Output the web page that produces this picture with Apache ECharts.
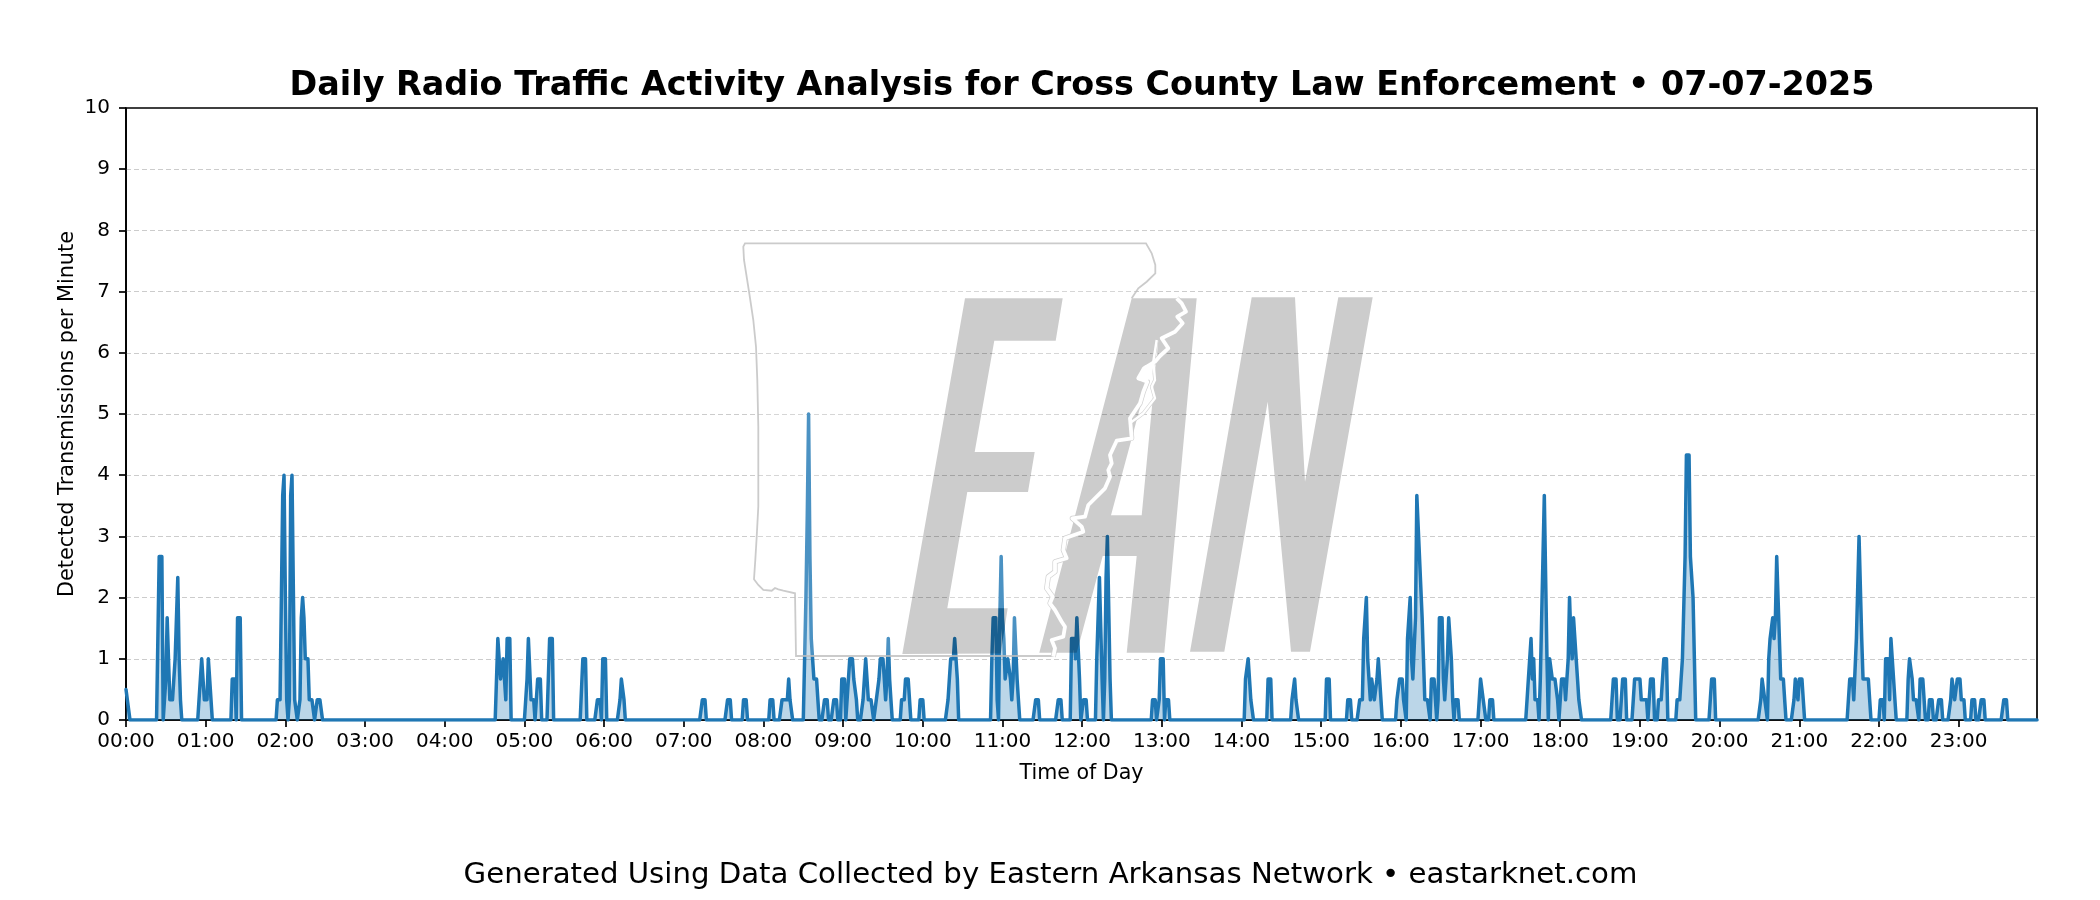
<!DOCTYPE html>
<html><head><meta charset="utf-8">
<style>html,body{margin:0;padding:0;background:#fff}#c{width:2100px;height:900px}</style>
<script src="https://cdn.jsdelivr.net/npm/echarts@6/dist/echarts.min.js"></script>
</head><body><div id="c"></div>
<script>
const chartTitle = "Daily Radio Traffic Activity Analysis for Cross County Law Enforcement • 07-07-2025";
const footerText = "Generated Using Data Collected by Eastern Arkansas Network • eastarknet.com";
const xLabel = "Time of Day";
const yLabel = "Detected Transmissions per Minute";
const hourLabels = ["00:00","01:00","02:00","03:00","04:00","05:00","06:00","07:00","08:00","09:00","10:00","11:00","12:00","13:00","14:00","15:00","16:00","17:00","18:00","19:00","20:00","21:00","22:00","23:00"];
const minutesInDay = 1440;
// Bursts of activity: first minute of each burst; all other minutes read as zero.
const burstStarts = [0,25,54,78,114,279,302,318,344,355,359,372,434,453,465,485,494,512,526,533,539,544,555,584,598,619,652,685,702,712,720,731,773,778,783,843,860,878,904,920,929,957,1019,1027,1055,1120,1127,1135,1148,1154,1168,1194,1231,1256,1298,1321,1325,1342,1351,1358,1365,1374,1390,1397,1414];
const burstValues = [
[0.5,0.33,0.33],
[2.67,2.67,2.67,0,0,0.67,1.67,1.67,0.33,0.33,0.33,0.33,1,1.67,2.33,1,0.33],
[0,0,0.67,1,1,0.33,0.33,0.33,1,0.67,0.67],
[0,0,0.67,0.67,0.67,0,1.67,1.67,1.67],
[0.33,0.33,0.33,2,3.67,4,2,0.33,0,0.33,3.67,4,4,0.33,0.33,0,0,0.33,1.67,2,1.67,1,1,1,0.33,0.33,0.33,0.33,0,0,0.33,0.33,0.33,0.33],
[0.67,1.33,1.33,0.67,0.67,1,1,0.33,1.33,1.33,1.33],
[0.67,1.33,1.33,0.33,0.33,0.33,0,0,0.67,0.67,0.67],
[0.67,1.33,1.33,1.33],
[1,1,1],
[0.33,0.33,0.33],
[1,1,1],
[0.33,0.67,0.67,0.33],
[0.33,0.33,0.33],
[0.33,0.33,0.33],
[0.33,0.33,0.33],
[0.33,0.33,0.33],
[0.33,0.33,0.33,0.33,0.33,0.67,0.33,0.33],
[2,3.33,5,2.67,1.33,1,0.67,0.67,0.67,0.33],
[0.33,0.33,0.33],
[0.33,0.33,0.33],
[0.67,0.67,0.67],
[0.67,1,1,1,0.67,0.67,0.33],
[0.33,0.67,1,1,0.33,0.33,0.33,0.33,0,0,0.33,0.33,0.67,1,1,1,0.67,0.33,0.67,1.33,0.67,0.33],
[0.33,0.33,0.33,0.67,0.67,0.67,0.33],
[0.33,0.33,0.33],
[0.33,0.67,1,1,1,1.33,1.33,0.67],
[1,1.67,1.67,1.67,0.33,0,1.67,2.67,1.67,1.33,0.67,0.67,1,1,0.67,0.33,0.67,1.67,1.67,0.67,0.33],
[0.33,0.33,0.33],
[0.33,0.33,0.33],
[1.33,1.33,1.33,1,1.67,1.67,0.67],
[0,0.33,0.33,0.33],
[1,1.67,2.33,2.33,0.67,0,0.67,2.33,3,3,0.67],
[0.33,0.33,0.33],
[0.33,1,1,1],
[0.33,0.33,0.33],
[0.67,0.67,1,0.67,0.33,0.33],
[0.67,0.67,0.67],
[0.33,0.33,0.67,0.33,0.33],
[0.67,0.67,0.67],
[0.33,0.33,0.33],
[0.33,0.33,0.33,1.33,1.33,2,1,1,0.33,0.67,0.67,0.33,0.33,0.67,1,0.67,0.33],
[0.33,0.33,0.67,0.67,0.67,0.33,0.33,0,1.33,1.33,2,1,0.67,0.67,1.67,3.67,3.67,2.67,2.67,1.67,1,0.33,0.33,0.33,0.33,0,0.67,0.67,0.67,0.33,0,0.33,1.67,1.67,1.67,0.67,0.33,0.67,1,1.67,1.67,1,0.33,0,0.33,0.33,0.33],
[0.33,0.67,0.67,0.33,0.33],
[0.33,0.33,0.33],
[0.33,0.67,0.67,1.33,0.67,1,0.33,0.33,0.33,0,0.67,1.67,2.67,3.67,2.33,1,0,1,1,0.67,0.67,0.67,0.67,0.33,0,0.33,0.67,0.67,0.67,0.33,0.67,1,2,1.33,1,1.67,1.67,1,0.67,0.33,0.33],
[0.67,0.67,0.67],
[0.67,0.67,0.67],
[0.33,0.67,0.67,0.67,0.67,0.67,0.33,0.33,0.33,0.33,0.33],
[0.67,0.67,0.67],
[0.33,0.33,0.33,0.67,1,1,1],
[0.33,0.33,0.33,0.67,1,1,2.67,4.33,4.33,4.33,2.67,2.33,2,1],
[0.67,0.67,0.67],
[0.33,0.67,0.67,0.33,0.33,0,1,1.33,1.33,1.67,1.33,1.67,2.67,2.67,1.33,0.67,0.67,0.67,0.33],
[0.33,0.67,0.67,0.33,0.67,0.67,0.67,0.33],
[0.67,0.67,0.67,0.33,0.33,1.33,1.33,3,3,1.33,0.67,0.67,0.67,0.67,0.67,0.33],
[0.33,0.33,0.33],
[1,1,1,0.33,1.33,1.33,0.67,0.33],
[0.67,1,1,0.67,0.33,0.33,0.33,0.33],
[0.67,0.67,0.67,0.33],
[0.33,0.33,0.33],
[0.33,0.33,0.33],
[0.33,0.67,0.67,0.33,0.33,0.67,0.67,0.67,0.33,0.33,0.33],
[0.33,0.33,0.33],
[0.33,0.33,0.33],
[0.33,0.33,0.33]
];
// Decorative watermark outlines (pixel positions of the logo image, not data).
const letterE = [[965,298.3],[1062.7,298.3],[1055.7,340.7],[994.3,340.7],[974.7,452],[1034.7,452],[1028,492],[967.3,492],[947.3,608.3],[1007.7,608.3],[1000.7,653.5],[902.3,654]];
const letterALegs = [[1039.3,652.7],[1131.7,298.3],[1196.7,298.3],[1164.3,652.7],[1126.7,652.7],[1136.7,556],[1102.7,556],[1076.7,652.7]];
const letterAHole = [[1111,515.3],[1141.7,515.3],[1158.3,340]];
const letterN = [[1251.7,297.3],[1295,297.3],[1305,481.7],[1338.3,297.3],[1372.7,297.3],[1310,651.7],[1291,651.7],[1267.7,401.7],[1224.3,651.7],[1190,651.7]];
const stateWest = [[1053.3,656],[796,656],[795,593.3],[783.3,590.7],[778.3,589.3],[775,588],[771.7,590.7],[763.3,590],[758.3,585],[754,579.3],[755.3,560],[756.7,536.7],[758.3,506.7],[758.3,426.7],[757.3,380],[756,346.7],[753.3,320],[749.3,293.3],[744,260],[743.3,246.7],[745,243.3],[1146,243.3],[1151.7,253.3],[1155.3,265],[1155.3,273.3],[1146.7,281.7],[1138.3,288.3],[1131.7,298.3]];
const riverMain = [[1176.7,298.3],[1181.7,303.3],[1186,311.7],[1177.3,316.7],[1182.7,323.3],[1175,331.7],[1161.7,338.3],[1168.3,348.3],[1160,356],[1155,361.7],[1144,368.3],[1138.3,378.3],[1147.3,381.7],[1143.3,391.7],[1140,403.3],[1130,418.3],[1131.7,438.3],[1116.7,440.7],[1110,455],[1111.7,463.3],[1108.3,470],[1110,476.7],[1105,488.3],[1088.3,505],[1085,516.7],[1072.3,518.3],[1081.7,526.7],[1083.3,531.7],[1065,538.3],[1063.3,550],[1066.7,558.3],[1055,561.7],[1055,571.7],[1048.3,576.7],[1046.7,588.3],[1052.7,596.7],[1050,603.3],[1055,610],[1061.7,621.7],[1065,626.7],[1063.3,636.7],[1051.7,640],[1055,648.3],[1053.3,656.7]];
const riverBranch = [[1156.7,340],[1153.3,361.7],[1155,380],[1151.7,386.7],[1155,398.3],[1143.3,413.3],[1136.7,418.3],[1130,423]];
const riverBlob = [[1144,366],[1154,362],[1152,374],[1147,382],[1137,380]];

// Every minute of the day, zero unless a burst covers it.
const perMinute = new Array(minutesInDay).fill(0);
burstStarts.forEach((s, i) => burstValues[i].forEach((v, k) => { perMinute[s + k] = v; }));
const seriesData = perMinute.map((v, m) => [m, v]);

// White tint of the state area: west outline, notched around the letter E, back along the A's left edge.
const stateTint = [].concat(
  stateWest.slice(1),
  [[1039.3,652.7],[1053.3,656],[1000.7,656],[1000.7,653.5]],
  [letterE[9],letterE[8],letterE[7],letterE[6],letterE[5],letterE[4],letterE[3],letterE[2],letterE[1],letterE[0],letterE[11]],
  [[902.3,656]]
);
const ink = 'rgba(0,0,0,0.2)';
const font = '"DejaVu Sans"';
const wm = (type, shape, style) => ({type, z: 50, silent: true, shape, style});
const aOuter = letterALegs;

const chart = echarts.init(document.getElementById('c'), null, {renderer:'canvas', width:2100, height:900});
chart.setOption({
  animation:false,
  backgroundColor:'#fff',
  title:[
    {text:chartTitle,left:1077,top:65,textAlign:'center',textStyle:{fontFamily:font,fontSize:33.4,fontWeight:'bold',color:'#000'}},
    {text:footerText,left:1045.5,top:856,textAlign:'center',textStyle:{fontFamily:font,fontSize:29.2,fontWeight:'normal',color:'#000'}}
  ],
  grid:{left:126,right:63,top:108,bottom:180,show:true,borderColor:'#000',borderWidth:1.7,backgroundColor:'transparent'},
  xAxis:{type:'value',min:0,max:minutesInDay-1,interval:60,
    name:xLabel,nameLocation:'middle',nameGap:43,nameTextStyle:{fontFamily:font,fontSize:20.6,color:'#000'},
    axisLine:{show:true,onZero:false,lineStyle:{color:'#000',width:1.7}},
    axisTick:{show:true,length:7,lineStyle:{color:'#000',width:1.7}},
    axisLabel:{fontFamily:font,fontSize:20,color:'#000',margin:12,showMaxLabel:false,
      formatter:v=>hourLabels[v/60]||''},
    splitLine:{show:false}},
  yAxis:{type:'value',min:0,max:10,interval:1,
    name:yLabel,nameLocation:'middle',nameGap:48,nameMoveOverlap:false,nameRotate:90,nameTextStyle:{fontFamily:font,fontSize:20.8,color:'#000'},
    axisLine:{show:true,lineStyle:{color:'#000',width:1.7}},
    axisTick:{show:true,length:7,lineStyle:{color:'#000',width:1.7}},
    axisLabel:{fontFamily:font,fontSize:20,color:'#000',margin:16,padding:[5,0,0,0]},
    splitLine:{show:true,showMinLine:false,showMaxLine:false,lineStyle:{color:'#cccccc',width:1,type:[5,3]}}},
  series:[{type:'line',data:seriesData,showSymbol:false,smooth:false,clip:true,z:3,
    lineStyle:{color:'#1f77b4',width:3.5,cap:'round',join:'round'},
    areaStyle:{color:'#1f77b4',opacity:0.3},
    itemStyle:{color:'#1f77b4'}}],
  graphic:{elements:[
    wm('polygon',{points:stateTint},{fill:'rgba(255,255,255,0.2)',stroke:null}),
    wm('polygon',{points:letterE},{fill:ink}),
    wm('polygon',{points:[aOuter[0],aOuter[1],aOuter[2],letterAHole[2],letterAHole[0],letterAHole[1],letterAHole[2],aOuter[2],aOuter[3],aOuter[4],aOuter[5],aOuter[6],aOuter[7]]},{fill:ink}),
    wm('polygon',{points:letterN},{fill:ink}),
    wm('polyline',{points:stateWest},{stroke:'rgba(190,190,190,0.8)',lineWidth:1.8,fill:null}),
    wm('polyline',{points:riverMain},{stroke:'rgba(205,205,205,0.9)',lineWidth:5.2,fill:null,lineJoin:'round'}),
    wm('polyline',{points:riverBranch},{stroke:'rgba(205,205,205,0.9)',lineWidth:3.6,fill:null,lineJoin:'round'}),
    wm('polyline',{points:riverMain},{stroke:'#fff',lineWidth:3.8,fill:null,lineJoin:'round'}),
    wm('polyline',{points:riverBranch},{stroke:'#fff',lineWidth:2.4,fill:null,lineJoin:'round'}),
    wm('polygon',{points:riverBlob},{fill:'#fff'})
  ]}
});
</script></body></html>
